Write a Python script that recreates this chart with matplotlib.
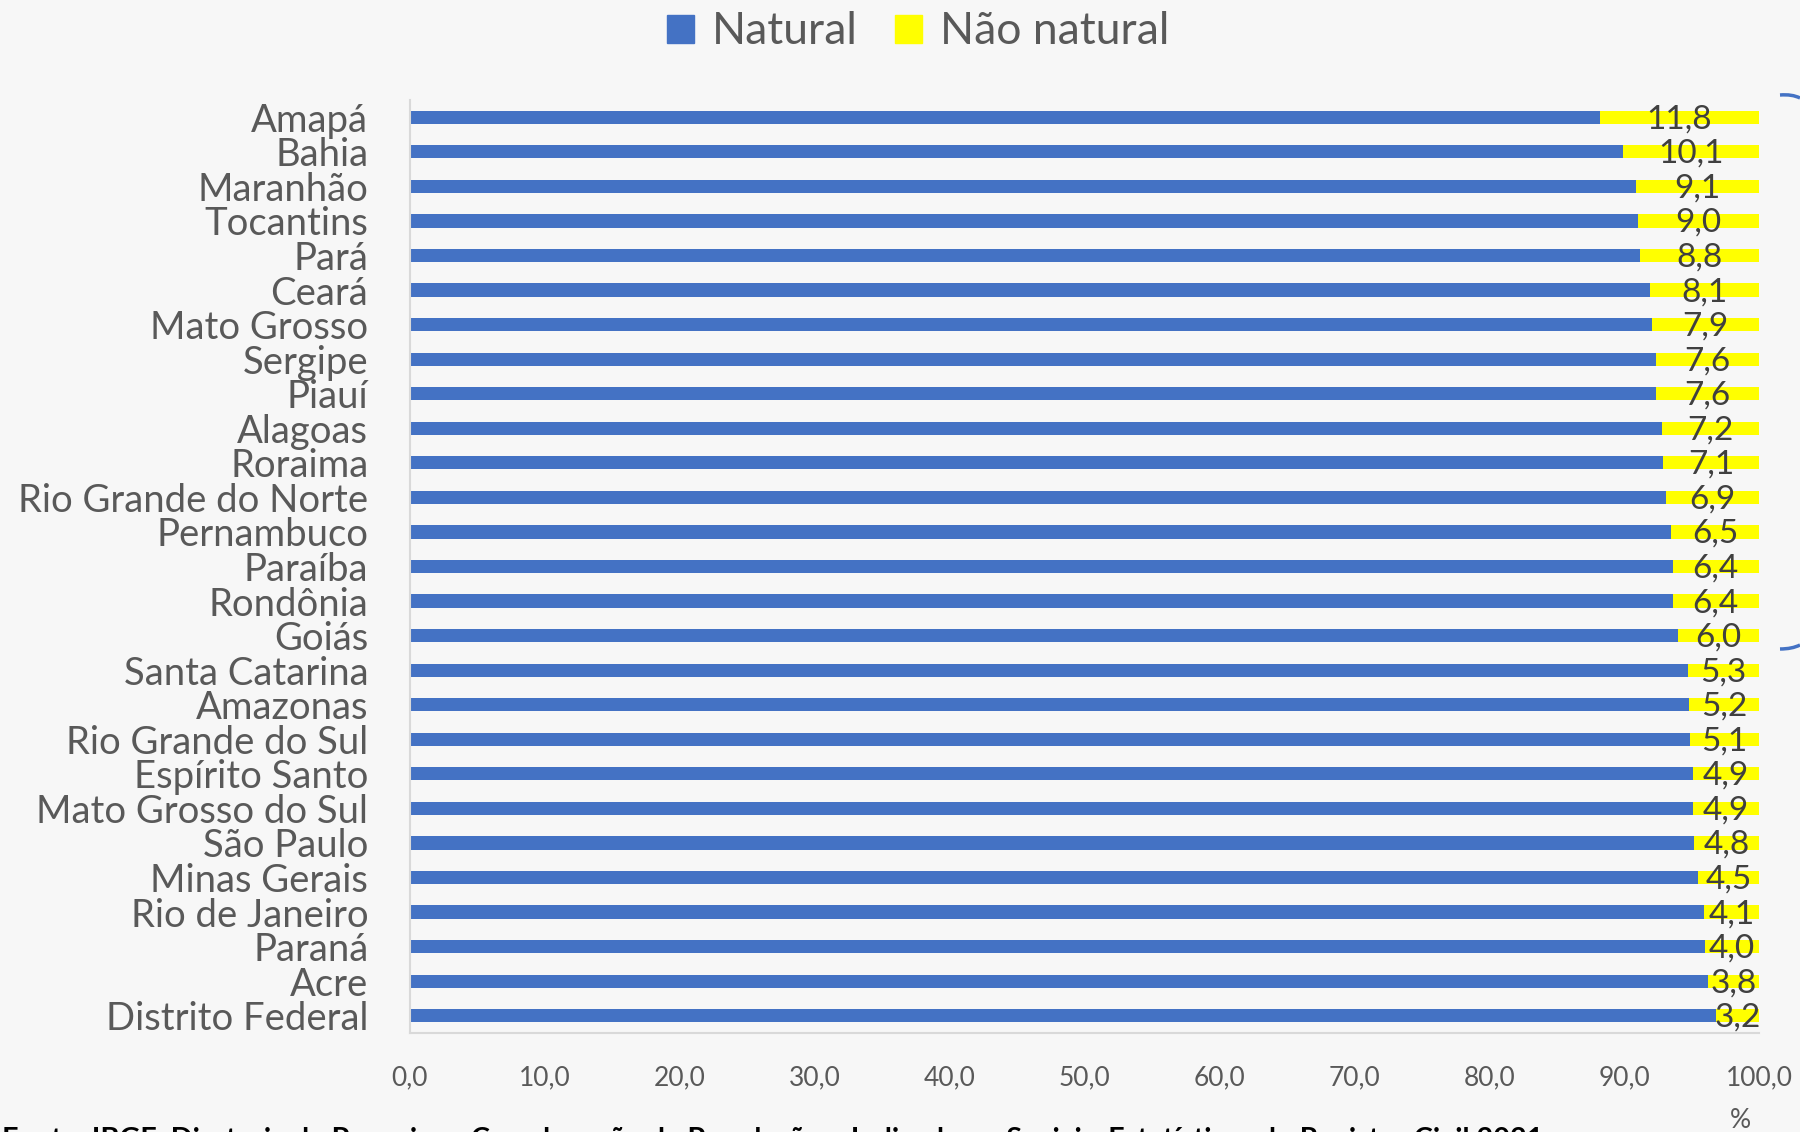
import matplotlib
matplotlib.use("Agg")
import matplotlib.pyplot as plt
from matplotlib.patches import Patch
from matplotlib.path import Path
from matplotlib.patches import PathPatch

plt.rcParams["font.family"] = ["Lato", "DejaVu Sans"]

# data
estados = [
    "Amapá", "Bahia", "Maranhão", "Tocantins", "Pará", "Ceará", "Mato Grosso",
    "Sergipe", "Piauí", "Alagoas", "Roraima", "Rio Grande do Norte", "Pernambuco",
    "Paraíba", "Rondônia", "Goiás", "Santa Catarina", "Amazonas", "Rio Grande do Sul",
    "Espírito Santo", "Mato Grosso do Sul", "São Paulo", "Minas Gerais",
    "Rio de Janeiro", "Paraná", "Acre", "Distrito Federal",
]
natural = [
    88.2, 89.9, 90.9, 91.0, 91.2, 91.9, 92.1, 92.4, 92.4, 92.8, 92.9, 93.1, 93.5,
    93.6, 93.6, 94.0, 94.7, 94.8, 94.9, 95.1, 95.1, 95.2, 95.5, 95.9, 96.0, 96.2, 96.8,
]
nao_natural = [
    11.8, 10.1, 9.1, 9.0, 8.8, 8.1, 7.9, 7.6, 7.6, 7.2, 7.1, 6.9, 6.5,
    6.4, 6.4, 6.0, 5.3, 5.2, 5.1, 4.9, 4.9, 4.8, 4.5, 4.1, 4.0, 3.8, 3.2,
]
xticks = [0, 10, 20, 30, 40, 50, 60, 70, 80, 90, 100]
fonte = ("Fonte: IBGE, Diretoria de Pesquisas, Coordenação de População e Indicadores "
         "Sociais, Estatísticas do Registro Civil 2021.")

BLUE = "#4472C4"
YELLOW = "#FFFF00"
BG = "#F7F7F7"
GRAY_TXT = "#595959"
W, H = 1800, 1132

fig = plt.figure(figsize=(W / 100, H / 100), dpi=100, facecolor=BG)
ax = fig.add_axes([410 / W, 1 - 1033 / H, (1759 - 410) / W, (1033 - 100) / H])
ax.set_facecolor(BG)

ypos = list(range(len(estados)))
ax.barh(ypos, natural, height=0.38, color=BLUE, label="Natural")
ax.barh(ypos, nao_natural, left=natural, height=0.38, color=YELLOW, label="Não natural")

for y, n, v in zip(ypos, natural, nao_natural):
    ax.text(n + v / 2, y + 0.06, f"{v:.1f}".replace(".", ","), ha="center", va="center",
            fontsize=24, color="#404040")

ax.set_ylim(len(estados) - 0.5, -0.5)
ax.set_xlim(0, 100)
ax.set_yticks(ypos)
ax.set_yticklabels(estados, fontsize=27.5, color=GRAY_TXT)
ax.set_xticks(xticks)
ax.set_xticklabels([f"{t:.1f}".replace(".", ",") for t in xticks], fontsize=19, color=GRAY_TXT)
ax.tick_params(axis="y", length=0, pad=30)
ax.tick_params(axis="x", length=0, pad=23)
for side in ["top", "right"]:
    ax.spines[side].set_visible(False)
for side in ["left", "bottom"]:
    ax.spines[side].set_color("#D9D9D9")
    ax.spines[side].set_linewidth(1.5)

fig.text(1740 / W, 1 - 1120 / H, "%", ha="center", va="center", fontsize=19, color=GRAY_TXT)

handles = [Patch(color=BLUE, label="Natural"), Patch(color=YELLOW, label="Não natural")]
fig.legend(handles=handles, loc="center", bbox_to_anchor=(918 / W, 1 - 32 / H), ncol=2,
           frameon=False, fontsize=32, handlelength=0.6, handleheight=0.6,
           handletextpad=0.4, columnspacing=0.85, labelcolor=GRAY_TXT)

# source note, cut by the bottom edge as in the reference
fig.text(2 / W, 1 - 1148 / H, fonte, ha="left", va="baseline", fontsize=20.7,
         fontweight="bold", color="#000000")

# ends of the brace on the right edge
for verts in [[(1780, 95), (1792, 94), (1800, 98)], [(1780, 649), (1792, 649), (1800, 645)]]:
    pts = [(x / W, 1 - y / H) for x, y in verts]
    path = Path(pts, [Path.MOVETO, Path.CURVE3, Path.CURVE3])
    fig.patches.append(PathPatch(path, transform=fig.transFigure, fill=False,
                                 edgecolor=BLUE, linewidth=2.5))

fig.savefig("out.png", dpi=100, facecolor=BG)
